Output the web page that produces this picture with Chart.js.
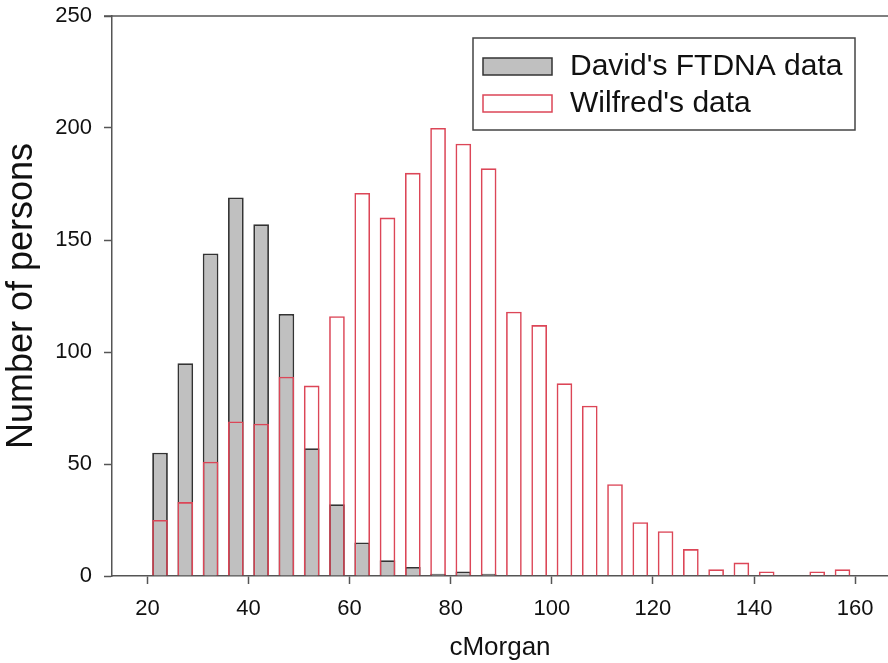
<!DOCTYPE html>
<html>
<head>
<meta charset="utf-8">
<script src="https://cdn.jsdelivr.net/npm/chart.js@4.4.1/dist/chart.umd.min.js"></script>
<style>
html,body{margin:0;padding:0;background:#fff;}
#wrap{width:888px;height:663px;}
</style>
</head>
<body>
<div id="wrap"><canvas id="c" width="888" height="663"></canvas></div>
<script>
// Bin centres (cM)
const binCenters = [22.5,27.5,32.5,37.5,42.5,47.5,52.5,57.5,62.5,67.5,72.5,77.5,82.5,87.5,92.5,97.5,102.5,107.5,112.5,117.5,122.5,127.5,132.5,137.5,142.5,147.5,152.5,157.5];
const davidCounts  = [55,95,144,169,157,117,57,32,15,7,4,1,2,1,0,0,0,0,0,0,0,0,0,0,0,0,0,0];
const wilfredCounts = [25,33,51,69,68,89,85,116,171,160,180,200,193,182,118,112,86,76,41,24,20,12,3,6,2,0,2,3];
const xTickStep = 20;
const yTickStep = 50;
const seriesNames = ["David's FTDNA data", "Wilfred's data"];

const FONT = "'Liberation Sans', Arial, sans-serif";
const RED = '#dc4657';
const DARK = '#333333';
const AXIS = '#555555';

const toPoints = (vals) => binCenters.map((x, i) => ({x: x, y: vals[i]}));

const framePlugin = {
  id: 'frame',
  afterDraw(chart) {
    const ctx = chart.ctx;
    const ca = chart.chartArea;
    const y = chart.scales.y;
    const ty = y.getPixelForValue(250);
    ctx.save();
    ctx.strokeStyle = AXIS;
    ctx.lineWidth = 1.5;
    ctx.beginPath();
    ctx.moveTo(ca.left - 8, ty);
    ctx.lineTo(chart.width, ty);
    ctx.stroke();
    ctx.restore();
  }
};

const legendPlugin = {
  id: 'boxLegend',
  afterDraw(chart) {
    const ctx = chart.ctx;
    const bx = 473, by = 38, bw = 382, bh = 92;
    ctx.save();
    ctx.fillStyle = '#fff';
    ctx.fillRect(bx, by, bw, bh);
    ctx.strokeStyle = '#444';
    ctx.lineWidth = 1.5;
    ctx.strokeRect(bx, by, bw, bh);
    const order = [1, 0]; // David first, Wilfred second
    order.forEach((di, row) => {
      const ds = chart.data.datasets[di];
      const cy = 66 + row * 37;
      ctx.fillStyle = ds.backgroundColor;
      ctx.fillRect(483, cy - 8, 69, 17);
      ctx.strokeStyle = ds.borderColor;
      ctx.lineWidth = 1.5;
      ctx.strokeRect(483, cy - 8, 69, 17);
      ctx.fillStyle = '#111';
      ctx.font = "30px " + FONT;
      ctx.textBaseline = 'middle';
      ctx.textAlign = 'left';
      ctx.fillText(ds.label, 570, cy + 1);
    });
    ctx.restore();
  }
};

new Chart(document.getElementById('c'), {
  type: 'bar',
  data: {
    datasets: [
      {
        label: seriesNames[1],
        data: toPoints(wilfredCounts),
        backgroundColor: 'rgba(255,255,255,0)',
        borderColor: RED,
        borderWidth: 1.6,
        order: 0
      },
      {
        label: seriesNames[0],
        data: toPoints(davidCounts),
        backgroundColor: '#c0c0c0',
        borderColor: DARK,
        borderWidth: 1.8,
        order: 1
      }
    ]
  },
  options: {
    responsive: false,
    animation: false,
    devicePixelRatio: 1,
    grouped: false,
    categoryPercentage: 1,
    barPercentage: 0.62,
    layout: {padding: {top: 16, right: 0, left: 0, bottom: 0}},
    plugins: {legend: {display: false}, tooltip: {enabled: false}},
    scales: {
      x: {
        type: 'linear',
        offset: false,
        min: 13,
        max: 166.5,
        afterFit(s) { s.height = 87; s.paddingLeft = 0; s.paddingRight = 0; },
        border: {color: AXIS, width: 1.5},
        grid: {display: true, drawOnChartArea: false, drawTicks: true, tickLength: 8, tickColor: AXIS, tickWidth: 1.5, offset: false},
        ticks: {stepSize: xTickStep, includeBounds: false, autoSkip: false, maxRotation: 0, padding: 12, color: '#111', font: {family: FONT, size: 22}},
        title: {display: true, text: 'cMorgan', color: '#111', font: {family: FONT, size: 26}, padding: {top: 0, bottom: 0}}
      },
      y: {
        min: 0,
        max: 250,
        afterFit(s) { s.width = 112; s.paddingTop = 0; s.paddingBottom = 0; },
        border: {color: AXIS, width: 1.5},
        grid: {display: true, drawOnChartArea: false, drawTicks: true, tickLength: 8, tickColor: AXIS, tickWidth: 1.5},
        ticks: {stepSize: yTickStep, padding: 12, color: '#111', font: {family: FONT, size: 22}},
        title: {display: true, text: 'Number of persons', color: '#111', font: {family: FONT, size: 36}, padding: {top: 0, bottom: 0}}
      }
    }
  },
  plugins: [framePlugin, legendPlugin]
});
</script>
</body>
</html>
